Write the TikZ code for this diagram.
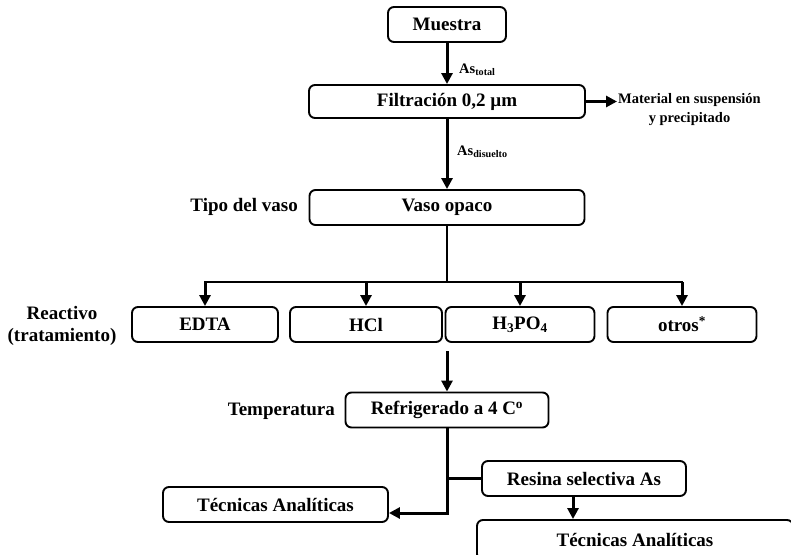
\documentclass[tikz,border=0pt]{standalone}
\usepackage{fontspec}
\setmainfont{Liberation Serif}
\usetikzlibrary{arrows.meta}

\begin{document}
\begin{tikzpicture}[x=1pt, y=-1pt,
    box/.style={draw, line width=1.9pt, rounded corners=6pt, inner sep=0pt,
        minimum height=35pt, font=\bfseries\fontsize{19}{22}\selectfont},
    sidetext/.style={align=center, inner sep=1pt, font=\bfseries\fontsize{19}{22}\selectfont},
    small/.style={align=center, inner sep=1pt, font=\bfseries\fontsize{14.5}{19}\selectfont},
    arr/.style={line width=3pt, -{Triangle[length=11pt,width=11pt]}},
    lin/.style={line width=2.6pt, line cap=rect}]
    \useasboundingbox (0,0) rectangle (791,554);
    \clip (0,0) rectangle (791,554);

    % Main column
    \node[box, minimum width=118pt] (muestra) at (447,24.5) {Muestra};
    \node[box, minimum width=276pt, minimum height=33pt] (filtr) at (447,101.5) {Filtración 0,2 µm};
    \node[box, minimum width=275pt] (vaso) at (447,207.5) {Vaso opaco};
    \node[box, minimum width=203pt] (refri) at (447,410) {Refrigerado a 4 C\textsuperscript{o}};

    % Reactives
    \node[box, minimum width=146pt] (edta) at (205,324.5) {EDTA};
    \node[box, minimum width=152pt] (hcl) at (366,324.5) {HCl};
    \node[box, minimum width=149pt] (hpo) at (520,324.5) {H\textsubscript{3}PO\textsubscript{4}};
    \node[box, minimum width=149pt] (otros) at (682,324.5) {otros\textsuperscript{*}};

    % Final steps
    \node[box, minimum width=204pt] (resina) at (584,478.5) {Resina selectiva As};
    \node[box, minimum width=225pt] (tecA) at (275.5,504.5) {Técnicas Analíticas};
    \node[box, minimum width=316pt, minimum height=40pt] (tecB) at (635,540) {Técnicas Analíticas};

    % Side labels
    \node[sidetext, anchor=east] (tipo) at (299,207) {Tipo del vaso};
    \node[sidetext] (reactivo) at (62,326) {Reactivo\\(tratamiento)};
    \node[sidetext, anchor=east] (temp) at (336,411) {Temperatura};
    \node[small, anchor=west] (mat) at (617,109.5) {Material en suspensión\\y precipitado};
    \node[small, anchor=west] (astot) at (458,70) {As\textsubscript{total}};
    \node[small, anchor=west] (asdis) at (456,152) {As\textsubscript{disuelto}};

    % Flow
    \draw[arr] (muestra) -- (filtr);
    \draw[arr] (filtr) -- (vaso);
    \draw[arr] (filtr.east) -- (filtr.east -| mat.west);

    \coordinate (split) at (447,282);
    \draw[lin] (vaso.south) -- (split);
    \draw[lin] (edta |- split) -- (otros |- split);
    \foreach \r in {edta,hcl,hpo,otros}
        \draw[arr] (\r |- split) -- (\r.north);

    \coordinate (below) at (447,351);
    \draw[arr] (below) -- (refri.north);

    \coordinate (bend) at (447,513);
    \draw[arr] (refri.south) -- (bend) -- (tecA.east |- bend);
    \draw[lin, line width=2.2pt] (bend |- resina.west) -- (resina.west);
    \draw[arr] ([xshift=-11pt]resina.south) -- ([xshift=-11pt]resina.south |- tecB.north);
\end{tikzpicture}
\end{document}
